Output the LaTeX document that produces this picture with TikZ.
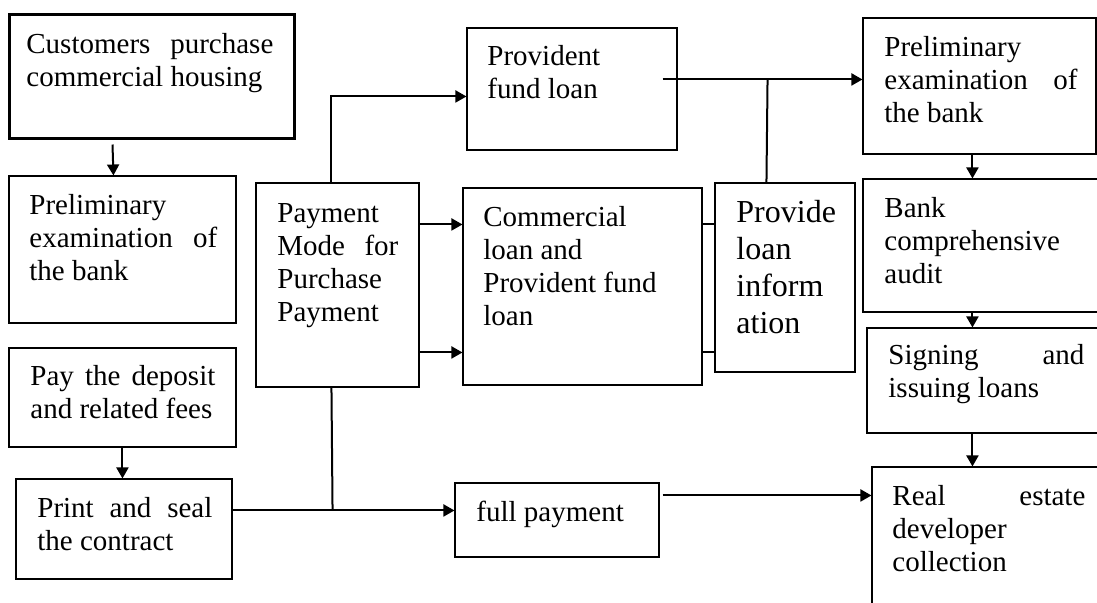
\documentclass[tikz,border=0pt]{standalone}
\usepackage{fontspec}
\setmainfont{Liberation Serif}
\usetikzlibrary{arrows.meta,fit,calc}
\newcommand\spreadline[2]{\hbox to #1{#2}}
\begin{document}
\begin{tikzpicture}[x=0.5pt,y=-0.5pt,
  box/.style={draw=black,line width=0.55pt,inner sep=0pt},
  thickbox/.style={draw=black,line width=1.5pt,inner sep=0pt},
  txt/.style={anchor=base west,inner sep=0pt,align=left,
    font=\fontsize{14.5pt}{16.5pt}\selectfont},
  bigtxt/.style={anchor=base west,inner sep=0pt,align=left,
    font=\fontsize{16pt}{18.5pt}\selectfont},
  conn/.style={draw=black,line width=1pt},
  arr/.style={conn,-{Triangle[length=5.5pt,width=6pt]}}]
\useasboundingbox (0,0) rectangle (1097,602);
% boxes
\node[thickbox,fit={(9,14) (294,138)}] (b1) {};
\node[box,fit={(9,176) (236,323)}] (b2) {};
\node[box,fit={(9,348) (236,447)}] (b3) {};
\node[box,fit={(16,479) (232,579)}] (b4) {};
\node[box,fit={(256,183) (419,387)}] (b5) {};
\node[box,fit={(467,28) (677,150)}] (bpf) {};
\node[box,fit={(463,188) (702,385)}] (bcl) {};
\node[box,fit={(715,183) (855,372)}] (bpl) {};
\node[box,fit={(455,483) (659,557)}] (bfull) {};
\node[box,fit={(863,18) (1096,154)}] (br1) {};
\node[box,fit={(863,179) (1102,312)}] (br2) {};
\node[box,fit={(867,328) (1102,433)}] (br3) {};
\node[box,fit={(872,467) (1102,606)}] (br4) {};
% texts (anchored at the baseline of their last line)
\node[txt] (t1) at (26,86) {\spreadline{123.5pt}{Customers\hfill purchase}\\commercial housing};
\node[txt] (t2) at (29,280) {Preliminary\\\spreadline{94pt}{examination\hfill of}\\the bank};
\node[txt] (t3) at (30,418) {\spreadline{92.5pt}{Pay\hfill the\hfill deposit}\\and related fees};
\node[txt] (t4) at (37,550) {\spreadline{87.5pt}{Print\hfill and\hfill seal}\\the contract};
\node[txt] (t5) at (277,321) {Payment\\\spreadline{60.5pt}{Mode\hfill for}\\Purchase\\Payment};
\node[txt] (t6) at (487,98) {Provident\\fund loan};
\node[txt] (t7) at (483,325) {Commercial\\loan and\\Provident fund\\loan};
\node[bigtxt] (t8) at (736,333) {Provide\\loan\\inform\\ation};
\node[txt] (t9) at (476,521) {full payment};
\node[txt] (t10) at (884,122) {Preliminary\\\spreadline{96.5pt}{examination\hfill of}\\the bank};
\node[txt] (t11) at (884,283) {Bank\\comprehensive\\audit};
\node[txt] (t12) at (888,397) {\spreadline{98pt}{Signing\hfill and}\\issuing loans};
\node[txt] (t13) at (892,571) {\spreadline{96.5pt}{Real\hfill estate}\\developer\\collection};
% connectors
\draw[arr] ($(b1.south west)+(105,5)$) -- ($(b2.north west)+(105,0)$);
\draw[arr] ($(b3.south west)+(114,0)$) -- ($(b4.north west)+(107,0)$);
\draw[arr] ($(b4.north east)+(0,32)$) -- ($(bfull.north west)+(0,28)$);
\draw[conn] ($(b5.south west)+(76,0)$) -- ($(b4.north east)+(100,32)$);
\draw[arr] ($(b5.north west)+(76,0)$) |- ($(bpf.north west)+(0,69)$);
\draw[arr] ($(b5.north east)+(0,42)$) -- ($(bcl.north west)+(0,37)$);
\draw[arr] ($(b5.north east)+(0,170)$) -- ($(bcl.north west)+(0,165)$);
\draw[conn] ($(bcl.north east)+(0,37)$) -- ($(bpl.north west)+(0,42)$);
\draw[conn] ($(bcl.north east)+(0,165)$) -- ($(bpl.north west)+(0,170)$);
\draw[arr] ($(bpf.north east)+(-15,52)$) -- ($(br1.north west)+(0,62)$);
\draw[conn] ($(bpl.north west)+(52,0)$) -- ($(bpf.north east)+(90,52)$);
\draw[arr] ($(br1.south west)+(110,0)$) -- ($(br2.north west)+(110,0)$);
\draw[arr] ($(br2.south west)+(110,0)$) -- ($(br3.north west)+(106,0)$);
\draw[arr] ($(br3.south west)+(106,0)$) -- ($(br4.north west)+(101,0)$);
\draw[arr] ($(bfull.north east)+(3,13)$) -- ($(br4.north west)+(0,29)$);
\end{tikzpicture}
\end{document}
